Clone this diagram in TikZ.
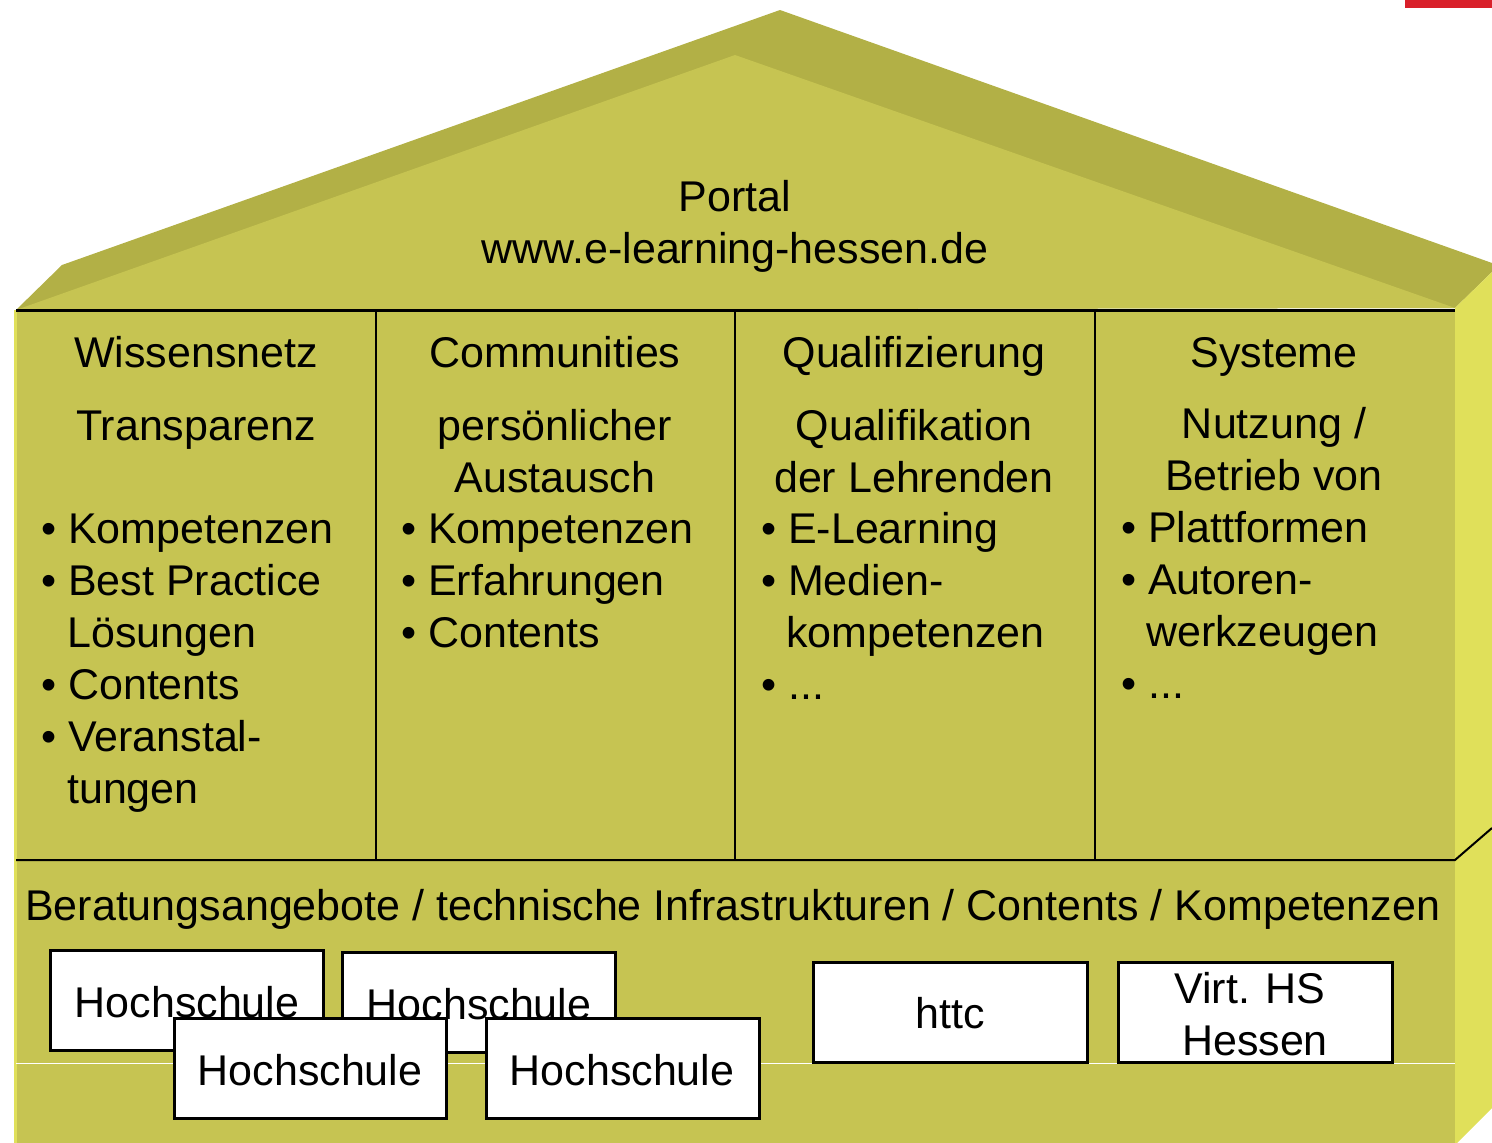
\documentclass[tikz,border=0pt]{standalone}
\usepackage{fontspec}
\setmainfont{Liberation Sans}
\definecolor{front}{RGB}{198,196,82}
\definecolor{roof}{RGB}{178,176,70}
\definecolor{side}{RGB}{224,224,90}
\definecolor{redbar}{RGB}{217,32,42}
\begin{document}
\begin{tikzpicture}[x=1pt,y=-1pt,
  txt/.style={font=\fontsize{43}{52}\selectfont, inner sep=0pt, anchor=base},
  ltxt/.style={txt, anchor=base west},
  hbox/.style={draw=black, line width=3pt, fill=white},
  divline/.style={draw=black, line width=2pt}]
\useasboundingbox (0,0) rectangle (1492,1143);
% red bar
\fill[redbar] (1405,0) rectangle (1492,8);
% roof
\fill[roof] (16,310) -- (62,265) -- (780,10) -- (1492,263) -- (1492,272) -- (1455,308) -- cycle;
\fill[front] (16,310) -- (735,55) -- (1455,308) -- cycle;
% right side face
\fill[side] (1455,308) -- (1492,272) -- (1492,1108) -- (1457,1143) -- (1455,1143) -- cycle;
% front face
\fill[front] (16,310) rectangle (1455,1143);
\fill[side] (14,310) rectangle (17,1143);
% lines
\coordinate (tl) at (16,310);
\coordinate (tr) at (1455,310);
\coordinate (ml) at (16,860);
\coordinate (mr) at (1455,860);
\coordinate (sr) at (1492,828);
\draw[line width=3pt] (tl) -- (tr);
\draw[divline] (ml) -- (mr) -- (sr);
\coordinate (d1t) at (376,310); \coordinate (d1b) at (376,860);
\coordinate (d2t) at (735,310); \coordinate (d2b) at (735,860);
\coordinate (d3t) at (1095,310); \coordinate (d3b) at (1095,860);
\draw[divline] (d1t) -- (d1b);
\draw[divline] (d2t) -- (d2b);
\draw[divline] (d3t) -- (d3b);
\coordinate (wl) at (16,1063); \coordinate (wr) at (1455,1063);
\draw[white, line width=1pt] (wl) -- (wr);
% roof text
\node[txt] (portal) at (735,211) {Portal};
\node[txt] (www) at (735,263) {www.e-learning-hessen.de};
% column 1
\node[txt] (c1a) at (196,367) {Wissensnetz};
\node[txt] (c1b) at (196,440) {Transparenz};
\node[ltxt] (c1c) at (41,543) {\textbullet\ Kompetenzen};
\node[ltxt] (c1d) at (41,595) {\textbullet\ Best Practice};
\node[ltxt] (c1e) at (67,647) {Lösungen};
\node[ltxt] (c1f) at (41,699) {\textbullet\ Contents};
\node[ltxt] (c1g) at (41,751) {\textbullet\ Veranstal-};
\node[ltxt] (c1h) at (67,803) {tungen};
% column 2
\node[txt] (c2a) at (555,367) {Communities};
\node[txt] (c2b) at (555,440) {persönlicher};
\node[txt] (c2c) at (555,492) {Austausch};
\node[ltxt] (c2d) at (401,543) {\textbullet\ Kompetenzen};
\node[ltxt] (c2e) at (401,595) {\textbullet\ Erfahrungen};
\node[ltxt] (c2f) at (401,647) {\textbullet\ Contents};
% column 3
\node[txt] (c3a) at (914,367) {Qualifizierung};
\node[txt] (c3b) at (914,440) {Qualifikation};
\node[txt] (c3c) at (914,492) {der Lehrenden};
\node[ltxt] (c3d) at (761,543) {\textbullet\ E-Learning};
\node[ltxt] (c3e) at (761,595) {\textbullet\ Medien-};
\node[ltxt] (c3f) at (786,647) {kompetenzen};
\node[ltxt] (c3g) at (761,699) {\textbullet\ ...};
% column 4
\node[txt] (c4a) at (1274,367) {Systeme};
\node[txt] (c4b) at (1274,438) {Nutzung /};
\node[txt] (c4c) at (1274,490) {Betrieb von};
\node[ltxt] (c4d) at (1121,542) {\textbullet\ Plattformen};
\node[ltxt] (c4e) at (1121,594) {\textbullet\ Autoren-};
\node[ltxt] (c4f) at (1146,646) {werkzeugen};
\node[ltxt] (c4g) at (1121,698) {\textbullet\ ...};
% bottom
\node[ltxt] (base) at (25,920) {Beratungsangebote / technische Infrastrukturen / Contents / Kompetenzen};
% boxes
\draw[hbox] (50,950) rectangle (323,1050);
\node[txt] (h1) at (187,1017) {Hochschule};
\draw[hbox] (342,952) rectangle (615,1052);
\node[txt] (h2) at (479,1019) {Hochschule};
\draw[hbox] (174,1018) rectangle (446,1118);
\node[txt] (h3) at (310,1085) {Hochschule};
\draw[hbox] (486,1018) rectangle (759,1118);
\node[txt] (h4) at (622,1085) {Hochschule};
\draw[hbox] (813,962) rectangle (1087,1062);
\node[txt] (httc) at (950,1028) {httc};
\draw[hbox] (1118,962) rectangle (1392,1062);
\node[txt] (v1) at (1250,1003) {Virt. HS};
\node[txt] (v2) at (1255,1055) {Hessen};
\end{tikzpicture}
\end{document}
